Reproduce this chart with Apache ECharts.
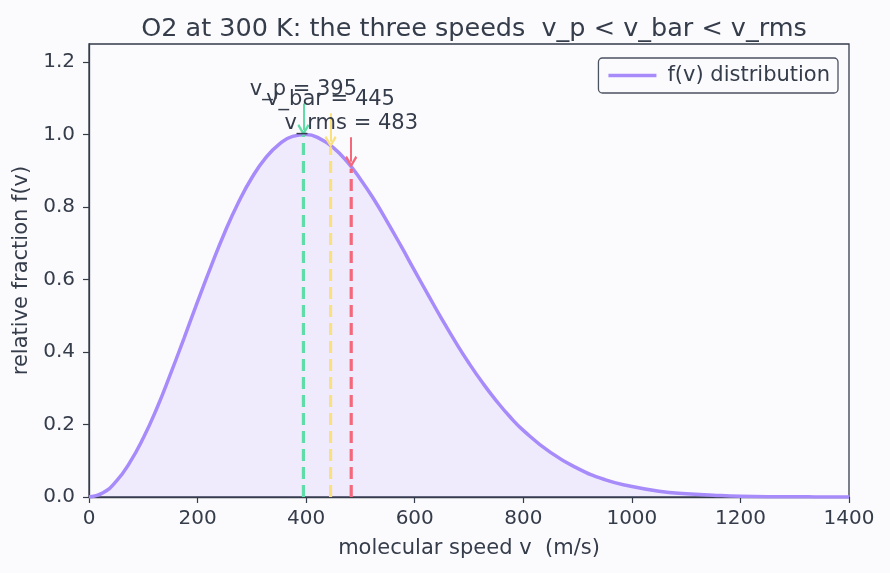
<!DOCTYPE html>
<html lang="en">
<head>
<meta charset="UTF-8" />
<title>O2 speeds</title>
<script src="https://cdn.jsdelivr.net/npm/echarts@6/dist/echarts.min.js"></script>
<style>
  html, body { margin: 0; padding: 0; background: #fbfbfe; }
  #main { width: 890px; height: 573px; }
</style>
</head>
<body>
<div id="main"></div>
<script type="text/javascript">
// speed grid (m/s) and relative fraction
const speeds = [0, 25, 50, 75, 100, 125, 150, 175, 200, 225, 250, 275, 300, 325, 350, 375,
  400, 425, 450, 475, 500, 525, 550, 575, 600, 625, 650, 675, 700, 725, 750, 775, 800,
  850, 900, 950, 1000, 1050, 1100, 1150, 1200, 1250, 1300, 1350, 1400];
const fraction = [0, 0.011, 0.043, 0.095, 0.163, 0.245, 0.339, 0.438, 0.539, 0.637, 0.730,
  0.812, 0.881, 0.935, 0.973, 0.995, 1.000, 0.989, 0.964, 0.926, 0.877, 0.821, 0.758,
  0.692, 0.624, 0.557, 0.491, 0.428, 0.369, 0.315, 0.266, 0.222, 0.184, 0.123, 0.079,
  0.048, 0.029, 0.016, 0.009, 0.005, 0.002, 0.001, 0.001, 0.000, 0.000];

// the three characteristic speeds
const markNames = ['v_p', 'v_bar', 'v_rms'];
const markSpeeds = [395, 445, 483];
const markHeights = [0.998, 0.965, 0.906];   // curve height at each speed
const arrowTop = [1.086, 1.059, 0.993];
const arrowTip = [1.013, 0.980, 0.925];
const markColors = ['#5fdca8', '#fbe07e', '#f4687c'];

const yTicks = [0, 0.2, 0.4, 0.6, 0.8, 1.0, 1.2];

const textColor = '#353c4a';
const font = 'DejaVu Sans';
const chevron = 'path://M5,0 L10,7 L8.6,8.3 L5,3.2 L1.4,8.3 L0,7 Z';

const chart = echarts.init(document.getElementById('main'));

const series = [{
  name: 'f(v) distribution',
  type: 'line',
  smooth: true,
  showSymbol: false,
  data: speeds.map((v, i) => [v, fraction[i]]),
  lineStyle: { color: '#a78bfa', width: 3.5 },
  itemStyle: { color: '#a78bfa' },
  areaStyle: { color: 'rgba(167,139,250,0.2)' },
  z: 3,
}];

markSpeeds.forEach((v, i) => {
  series.push({
    name: markNames[i],
    type: 'line',
    showSymbol: false,
    data: [[v, 0], [v, markHeights[i]]],
    lineStyle: { color: markColors[i], width: 3.2, type: [12, 6] },
    itemStyle: { color: markColors[i] },
    z: 4,
    markLine: {
      silent: true,
      symbol: ['none', chevron],
      symbolSize: [12, 12],
      lineStyle: { color: markColors[i], width: 2, type: 'solid' },
      label: {
        show: true,
        position: 'start',
        distance: 3,
        color: textColor,
        fontSize: 21,
        fontFamily: font,
        formatter: `${markNames[i]} = ${v}`,
      },
      data: [[{ coord: [v, arrowTop[i]] }, { coord: [v, arrowTip[i]] }]],
    },
  });
});

const option = {
  animation: false,
  backgroundColor: '#fbfbfe',
  title: {
    text: 'O2 at 300 K: the three speeds  v_p < v_bar < v_rms',
    left: 469,
    textAlign: 'center',
    top: 11,
    textStyle: { color: textColor, fontSize: 25.5, fontWeight: 'normal', fontFamily: font },
  },
  legend: {
    data: ['f(v) distribution'],
    right: 52,
    top: 58,
    icon: 'rect',
    itemWidth: 48,
    itemHeight: 3.5,
    itemGap: 10,
    padding: [7, 8, 7, 10],
    borderColor: '#4b5260',
    borderWidth: 1.3,
    borderRadius: 4,
    backgroundColor: '#fbfbfe',
    textStyle: { color: textColor, fontSize: 21, fontFamily: font, padding: [0, 0, 0, 6] },
  },
  grid: {
    left: 89,
    right: 41,
    top: 44,
    bottom: 76,
    show: true,
    borderColor: '#353c4a',
    borderWidth: 1.3,
    backgroundColor: 'transparent',
  },
  xAxis: {
    type: 'value',
    min: 0,
    max: 1400,
    interval: 200,
    name: 'molecular speed v  (m/s)',
    nameLocation: 'middle',
    nameGap: 41,
    nameTextStyle: { color: textColor, fontSize: 21, fontFamily: font },
    axisLine: { lineStyle: { color: '#353c4a', width: 1.3 } },
    axisTick: { show: true, length: 6, lineStyle: { color: '#353c4a', width: 1.2 } },
    axisLabel: { color: textColor, fontSize: 20, fontFamily: font, margin: 12, formatter: v => String(v) },
    splitLine: { show: false },
  },
  yAxis: {
    type: 'value',
    min: 0,
    max: 1.25,
    name: 'relative fraction f(v)',
    nameLocation: 'middle',
    nameGap: 55,
    nameTextStyle: { color: textColor, fontSize: 21, fontFamily: font },
    axisLine: { show: true, lineStyle: { color: '#353c4a', width: 1.3 } },
    axisTick: { show: true, length: 6, customValues: yTicks, lineStyle: { color: '#353c4a', width: 1.2 } },
    axisLabel: {
      color: textColor, fontSize: 20, fontFamily: font, margin: 14,
      customValues: yTicks,
      formatter: v => v.toFixed(1),
    },
    splitLine: { show: false },
  },
  series,
};
chart.setOption(option);
</script>
</body>
</html>
